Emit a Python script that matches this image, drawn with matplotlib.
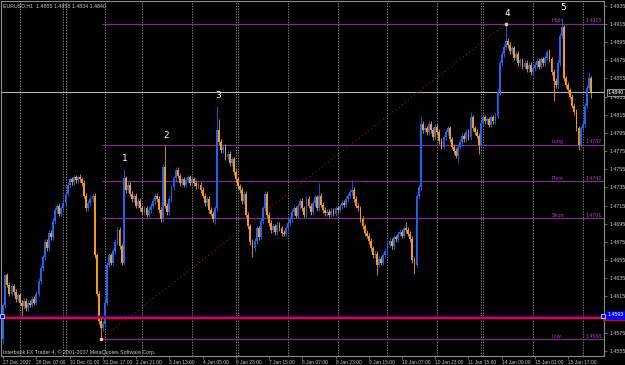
import numpy as np
import matplotlib
matplotlib.use("Agg")
import matplotlib.pyplot as plt
import matplotlib.transforms as mtransforms
from matplotlib import font_manager

names = {f.name for f in font_manager.fontManager.ttflist}
narrow = 'Liberation Sans Narrow' in names
small_font = ['Liberation Sans Narrow', 'Liberation Sans', 'DejaVu Sans'] if narrow \
    else ['Liberation Sans', 'DejaVu Sans']
plt.rcParams['font.family'] = small_font

# ---------------- data (prices in pips above 1.4500) ----------------
BASE = 1.4500
PIP = 0.0001
first_open = 68
closes = [
    105, 138,
    128, 118, 126, 120, 112, 116, 108,
    104, 110, 102, 108, 106, 112, 108,
    118, 132, 146,
    158, 175, 168, 185, 180, 198,
    210, 215, 206, 212, 218,
    228, 238,
    244, 241, 246, 243, 247, 244, 240,
    226, 212, 218,
    222, 226,
    160, 118, 88, 80,
    85, 108,
    150, 160, 152, 165, 175, 188, 170, 152,
    245,
    232, 238, 228, 222, 226, 215, 220, 212,
    208, 212, 205, 210, 215, 220,
    226, 222, 210, 200,
    258, 215, 208,
    222, 235, 245,
    254, 248, 240, 244, 238, 243, 246, 240,
    244, 240, 236, 238, 232, 226,
    218, 222, 210, 206, 200, 212,
    298, 285,
    276, 280, 268, 272, 262, 266,
    252, 244, 236, 232,
    220, 228, 205, 192, 175, 168,
    176, 190, 180, 198, 212, 228, 205,
    196, 188, 192, 186, 194, 190, 185, 184, 190, 196, 200, 208, 212, 204, 214, 220,
    212, 205, 222, 215, 208, 218, 224, 212, 226,
    216, 210, 207, 208, 205, 209, 206, 212, 210,
    214, 218, 216, 222, 226, 230, 232,
    222, 215, 212, 200, 192, 185, 182,
    176, 168, 160, 162, 150, 156, 152, 160,
    165, 172, 176, 170, 180, 178, 184, 186, 182, 190, 188, 184, 178,
    155, 150,
    225, 235, 305, 298,
    300, 296, 305, 298, 290, 302, 296, 286, 280, 290, 296, 300, 288, 280, 275, 270,
    280, 285, 292, 288, 296, 290,
    312, 300, 296, 292, 282,
    306, 312, 308, 310, 304, 312, 308, 314,
    340, 372, 382, 390, 396,
    392, 385, 388, 378, 382, 372, 375, 368, 372, 365, 370, 362, 366,
    370, 374, 368, 376, 372, 378, 384, 376,
    362, 352, 348,
    372, 402, 412, 355,
    348, 342, 335, 325, 318, 300, 282,
    300, 305, 325, 345, 355, 340,
]
high_wicks = {0: 108, 1: 140, 36: 248, 58: 255, 78: 281, 103: 325, 104: 310,
              152: 240, 168: 243, 194: 197, 201: 312, 225: 318, 242: 415,
              262: 386, 269: 422, 270: 414, 282: 362, 283: 358}
low_wicks = {0: 62, 9: 93, 47: 68, 102: 195, 120: 158, 180: 138, 198: 140,
             219: 262, 229: 272, 265: 330, 277: 276, 283: 334}

level_names = ["High", "Long", "Pivot", "Short", "Low"]
level_values = [1.4915, 1.4782, 1.4742, 1.4701, 1.4568]
trend_start_bar = 47   # low anchor of the dotted trend line
trend_end_bar = 242    # high anchor of the dotted trend line
bid_price = 1.4840
blue_level = 1.45935
red_level = 1.4591
x_labels = ["27 Dec 2007", "28 Dec 07:00", "31 Dec 01:00", "31 Dec 17:00", "2 Jan 21:00",
            "3 Jan 13:00", "4 Jan 05:00", "6 Jan 23:00", "7 Jan 15:00", "8 Jan 07:00",
            "8 Jan 23:00", "9 Jan 15:00", "10 Jan 07:00", "10 Jan 23:00", "11 Jan 15:00",
            "14 Jan 09:00", "15 Jan 01:00", "15 Jan 17:00"]
separator_bars = [8, 29, 30, 49, 67, 91, 112, 113, 137, 161, 185, 209, 230, 231, 255, 279]
wave_labels = ["1", "2", "3", "4", "5"]
wave_bars = [58, 78, 103, 242, 269]
y_tick_values = [1.4935, 1.4915, 1.4895, 1.4875, 1.4855, 1.4835, 1.4815, 1.4795, 1.4775,
                 1.4755, 1.4735, 1.4715, 1.4695, 1.4675, 1.4655, 1.4635, 1.4615, 1.4595,
                 1.4575, 1.4555]

# ---------------- OHLC ----------------
n = len(closes)
c = BASE + np.array(closes) * PIP
o = np.concatenate([[BASE + first_open * PIP], c[:-1]])
h = np.maximum(o, c) + 3 * PIP
l = np.minimum(o, c) - 3 * PIP
for k, v in high_wicks.items():
    h[k] = BASE + v * PIP
for k, v in low_wicks.items():
    l[k] = BASE + v * PIP
x = np.arange(n)

# ---------------- figure ----------------
W, H = 625, 365
FS = 4.9 if narrow else 3.8
FSX = 4.4 if narrow else 3.5
fig = plt.figure(figsize=(W / 100, H / 100), dpi=100, facecolor='black')
ax = fig.add_axes([1 / W, 9 / H, 603 / W, 355 / H])
ax.set_facecolor('black')

X0, STEP = 3.2, 2.077
ax.set_xlim((1 - X0) / STEP, (604 - X0) / STEP)
ax.set_ylim(1.45493, 1.49403)

LBL = '#c8c8c8'
for s in ax.spines.values():
    s.set_color('#8c8c8c')
    s.set_linewidth(0.8)

# separators
for b in separator_bars:
    ax.axvline(b, color='#9a9a9a', lw=0.6, ls=(0, (1.6, 1.6)), zorder=1)

# level lines
lvl_col = '#7d2e8f'
btr = mtransforms.blended_transform_factory(ax.transAxes, ax.transData)
for name, val in zip(level_names, level_values):
    ax.hlines(val, trend_start_bar + 0.5, ax.get_xlim()[1], color=lvl_col, lw=0.9, zorder=2)
    ax.text((552 - 1) / 603, val + 3.3 * PIP, name, transform=btr, color='#a348b8',
            fontsize=FS, ha='left', va='center', zorder=6)
    ax.text((602 - 1) / 603, val + 3.3 * PIP, f"{val:.4f}", transform=btr, color='#a348b8',
            fontsize=FS, ha='right', va='center', zorder=6)

# bid line
ax.axhline(bid_price, color='#b4b4b4', lw=0.8, zorder=2)

# diagonal dotted trend line
tx = [trend_start_bar, trend_end_bar]
ty = [l[trend_start_bar], h[trend_end_bar]]
ax.plot(tx, ty, color='#8b1c1c', lw=0.8, ls=(0, (1, 2.5)), zorder=2)
ax.plot(tx, ty, ls='none', marker='s', ms=2, mfc='#ffb6c8', mec='#ffb6c8', zorder=6)

# candles
bull = c >= o
cols = np.where(bull, '#1f64f0', '#f29a1c')
ax.vlines(x, l, h, colors=cols, lw=0.6, zorder=3)
body = np.maximum(np.abs(c - o), 0.5 * PIP)
ax.bar(x, body, bottom=np.minimum(o, c), width=0.9, color=cols, linewidth=0, zorder=4)

# blue / red horizontal lines
ax.axhline(blue_level, color='#0000ff', lw=1.0, zorder=5)
ax.axhline(red_level, color='#ff0000', lw=1.6, zorder=5)
ax.plot([0.002, 0.998], [blue_level, blue_level], transform=btr, ls='none', marker='s',
        ms=2.6, mfc='#0000ff', mec='white', mew=0.5, clip_on=False, zorder=7)

# wave labels
for lbl, b in zip(wave_labels, wave_bars):
    ax.annotate(lbl, (b, h[b]), xytext=(1, 7.5), textcoords='offset points', color='white',
                fontsize=6.5, family='DejaVu Sans', ha='center', va='center', zorder=8)

# axes ticks
ax.yaxis.tick_right()
ax.set_yticks(y_tick_values)
ax.set_yticklabels([f"{v:.4f}" for v in y_tick_values])
ax.tick_params(axis='y', colors='#8c8c8c', labelcolor=LBL, labelsize=FS, length=2.5,
               width=0.5, pad=1.2)
ax.set_xticks(np.arange(0, 16 * len(x_labels), 16))
ax.set_xticklabels(x_labels, ha='left')
ax.tick_params(axis='x', colors='#8c8c8c', labelcolor=LBL, labelsize=FSX, length=2,
               width=0.5, pad=0.8)

# right-side price boxes
ax.text(1.006, bid_price, "1.4840", transform=btr, color='white', fontsize=FS,
        ha='left', va='center', zorder=9, clip_on=False,
        bbox=dict(boxstyle='square,pad=0.2', fc='#101010', ec='#c0c0c0', lw=0.5))
ax.plot([1.0, 1.033], [red_level - 1.5 * PIP] * 2, transform=btr, color='#ff0000', lw=1.3,
        clip_on=False, zorder=8)
ax.text(1.006, blue_level + 1 * PIP, "1.4593", transform=btr, color='white', fontsize=FS,
        ha='left', va='center', zorder=9, clip_on=False,
        bbox=dict(boxstyle='square,pad=0.35', fc='#0000ff', ec='#0000ff', lw=0.5))

# header / footer texts
fig.text(3 / W, 1 - 5.5 / H, "EURUSD,H1  1.4855 1.4858 1.4834 1.4840", color=LBL,
         fontsize=FS, ha='left', va='center')
fig.text(3 / W, 1 - 352 / H, "Interbank FX Trader 4, \u00a9 2001-2007 MetaQuotes Software Corp.",
         color=LBL, fontsize=FS, ha='left', va='center')

fig.savefig("out.png", dpi=100, facecolor='black')
